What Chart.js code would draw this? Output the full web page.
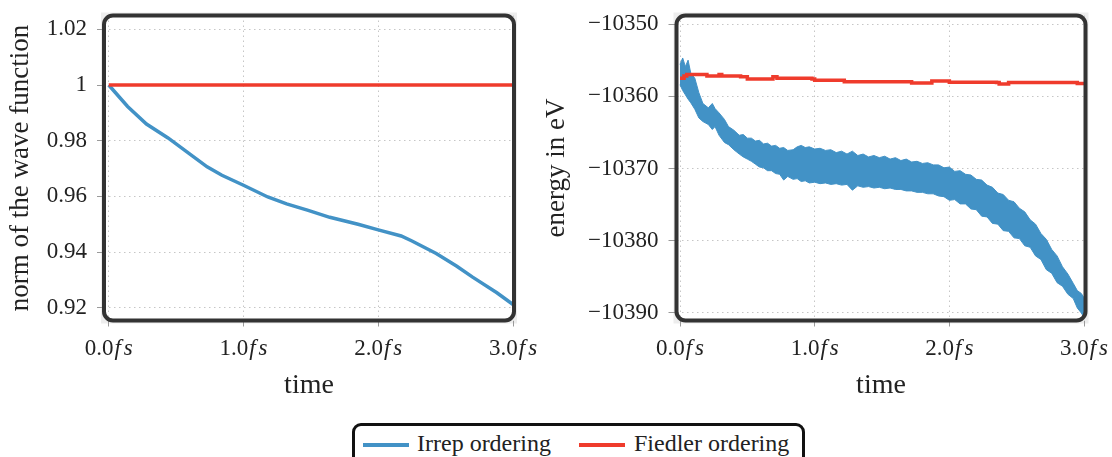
<!DOCTYPE html>
<html>
<head>
<meta charset="utf-8">
<script src="https://cdn.jsdelivr.net/npm/chart.js@4.4.0/dist/chart.umd.min.js"></script>
<style>
    body { margin: 0; width: 1112px; height: 457px; background: #fff; position: relative; overflow: hidden; font-family: "Liberation Serif", serif; color: #222; }
    #normChart { position: absolute; left: 0; top: 0; }
    #energyChart { position: absolute; left: 540px; top: 0; }
    #legend { position: absolute; left: 352px; top: 423px; width: 453px; height: 50px; border: 3px solid #111; border-radius: 9px; box-sizing: border-box; }
    #legend .swatch { position: absolute; top: 17px; width: 46px; height: 4px; }
    #legend .label { position: absolute; top: 3px; font-size: 24px; line-height: 28px; white-space: nowrap; }
</style>
</head>
<body>
<canvas id="normChart" width="540" height="420"></canvas>
<canvas id="energyChart" width="572" height="420"></canvas>
<div id="legend">
    <div class="swatch" style="left: 8px; background: #4292c6;"></div>
    <div class="label" style="left: 62px;">Irrep ordering</div>
    <div class="swatch" style="left: 224px; background: #ef3b2c;"></div>
    <div class="label" style="left: 279px;">Fiedler ordering</div>
</div>
<script>
const BLUE = '#4292c6';
const RED = '#ef3b2c';

// x ticks shared by both panels (fs)
const timeTicks = [0, 1, 2, 3];

// left panel: norm of the wave function
const normTicks = [0.92, 0.94, 0.96, 0.98, 1.0, 1.02];
const normTime = [0, 0.14, 0.28, 0.44, 0.58, 0.73, 0.84, 1.0, 1.18, 1.32, 1.48, 1.64, 1.85, 2.0, 2.17, 2.25, 2.43, 2.58, 2.7, 2.88, 3.0];
const normIrrep = [1.0, 0.9923, 0.986, 0.981, 0.976, 0.9706, 0.9676, 0.964, 0.9598, 0.9573, 0.955, 0.9525, 0.950, 0.948, 0.9458, 0.944, 0.9395, 0.935, 0.931, 0.9254, 0.9212];
const normFiedlerTime = [0, 3];
const normFiedler = [1.0, 1.0];

// right panel: energy (Irrep ordering is a noisy band -> upper / lower envelope)
const energyTicks = [-10390, -10380, -10370, -10360, -10350];
const bandTime = [0, 0.02, 0.04, 0.06, 0.08, 0.11, 0.14, 0.17, 0.21, 0.24, 0.26, 0.29, 0.33, 0.36, 0.40,
    0.44, 0.47, 0.50, 0.53, 0.56, 0.59, 0.62, 0.65, 0.68, 0.71, 0.74, 0.77, 0.80, 0.84, 0.87, 0.90, 0.93, 0.96,
    1.00, 1.04, 1.08, 1.12, 1.16, 1.20, 1.24, 1.28, 1.32, 1.36, 1.40, 1.44, 1.48, 1.52, 1.56, 1.60, 1.64, 1.68, 1.72, 1.76, 1.80, 1.84, 1.88, 1.92, 1.96,
    2.00, 2.04, 2.08, 2.12, 2.16, 2.20, 2.24, 2.28, 2.32, 2.36, 2.40, 2.44, 2.48, 2.52, 2.56, 2.60, 2.64, 2.68, 2.72, 2.76, 2.80, 2.84, 2.88, 2.92, 2.95, 2.98, 3.0];
const bandUpper = [-10355.6, -10354.7, -10355.9, -10355.0, -10356.8, -10357.5, -10359.5, -10361.0, -10361.6, -10361.0, -10361.7, -10362.3, -10363.2, -10364.2, -10364.7,
    -10365.4, -10365.3, -10365.8, -10365.8, -10366.2, -10366.1, -10366.6, -10366.5, -10366.9, -10366.8, -10367.2, -10367.1, -10367.5, -10367.4, -10367.0, -10366.8, -10367.1, -10367.0,
    -10367.3, -10367.2, -10367.5, -10367.4, -10367.8, -10367.6, -10368.0, -10367.6, -10368.2, -10368.0, -10368.4, -10368.2, -10368.5, -10368.3, -10368.7, -10368.5, -10368.9, -10368.7, -10369.1, -10369.0, -10369.3, -10369.2, -10369.5, -10369.5, -10369.9,
    -10369.8, -10370.4, -10370.3, -10370.8, -10370.9, -10371.5, -10371.6, -10372.3, -10372.6, -10373.4, -10373.6, -10374.4, -10374.6, -10375.5, -10376.0, -10377.1, -10377.7, -10379.0, -10379.8, -10381.2, -10382.1, -10383.6, -10384.6, -10385.9, -10386.9, -10387.3, -10387.9];
const bandLower = [-10358.4, -10359.2, -10359.8, -10360.4, -10360.9, -10361.8, -10363.0, -10363.5, -10363.9, -10364.6, -10364.2, -10365.4, -10366.4, -10366.7, -10367.4,
    -10368.0, -10368.4, -10368.7, -10369.0, -10369.4, -10369.8, -10369.9, -10370.3, -10370.3, -10370.7, -10370.8, -10371.6, -10371.1, -10371.5, -10371.4, -10371.8, -10371.7, -10372.0,
    -10371.9, -10372.1, -10372.0, -10372.2, -10372.1, -10372.3, -10372.2, -10373.0, -10372.4, -10372.6, -10372.5, -10372.7, -10372.6, -10372.8, -10372.7, -10372.9, -10372.9, -10373.1, -10373.1, -10373.3, -10373.3, -10373.5, -10373.5, -10373.8, -10373.9,
    -10374.4, -10374.3, -10374.9, -10374.9, -10375.6, -10375.7, -10376.6, -10376.7, -10377.6, -10377.7, -10378.6, -10378.7, -10379.6, -10379.7, -10380.7, -10380.9, -10382.1, -10382.6, -10384.0, -10384.5, -10385.8, -10386.3, -10387.4, -10388.0, -10389.3, -10390.0, -10390.6];
const fiedlerTime = [0, 0.03, 0.05, 0.18, 0.20, 0.27, 0.29, 0.31, 0.45, 0.50, 0.67, 0.69, 0.72, 0.98, 1.00, 1.20, 1.22, 1.70, 1.72, 1.85, 1.87, 1.98, 2.00, 2.35, 2.37, 2.42, 2.44, 2.93, 2.95, 3.0];
const fiedlerEnergy = [-10357.5, -10357.2, -10357.0, -10357.0, -10357.2, -10357.2, -10357.0, -10357.2, -10357.3, -10357.6, -10357.6, -10357.3, -10357.5, -10357.6, -10357.8, -10357.8, -10358.0, -10358.0, -10358.15, -10358.15, -10357.9, -10357.9, -10358.05, -10358.1, -10358.3, -10358.3, -10358.1, -10358.1, -10358.25, -10358.25];

function toPoints(xs, ys) {
    return xs.map((x, i) => ({ x: x, y: ys[i] }));
}

function roundRect(ctx, x, y, w, h, r) {
    ctx.beginPath();
    ctx.moveTo(x + r, y);
    ctx.arcTo(x + w, y, x + w, y + h, r);
    ctx.arcTo(x + w, y + h, x, y + h, r);
    ctx.arcTo(x, y + h, x, y, r);
    ctx.arcTo(x, y, x + w, y, r);
    ctx.closePath();
}

// rounded frame round the plot area plus the "0.0fs" style x labels
const framePlugin = {
    id: 'frame',
    beforeDraw(chart) {
        const { ctx, chartArea: a } = chart;
        ctx.save();
        ctx.fillStyle = '#ededed';
        ctx.fillRect(a.left - 3, a.top - 3, a.width + 6, a.height + 6);
        ctx.fillStyle = '#ffffff';
        roundRect(ctx, a.left, a.top, a.width, a.height, 9);
        ctx.fill();
        ctx.restore();
    },
    afterDraw(chart) {
        const { ctx, chartArea: a } = chart;
        ctx.save();
        ctx.lineWidth = 4;
        ctx.strokeStyle = '#333333';
        roundRect(ctx, a.left, a.top, a.width, a.height, 9);
        ctx.stroke();

        const xScale = chart.scales.x;
        const upright = '23px "Liberation Serif"';
        const italic = 'italic 23px "Liberation Serif"';
        ctx.fillStyle = '#222';
        ctx.textBaseline = 'middle';
        ctx.textAlign = 'left';
        timeTicks.forEach(v => {
            const num = v.toFixed(1);
            ctx.font = upright;
            const w1 = ctx.measureText(num).width;
            ctx.font = italic;
            const wf = ctx.measureText('f').width;
            const ws = ctx.measureText('s').width;
            const total = w1 + 1 + wf + 3 + ws;
            const px = xScale.getPixelForValue(v) - total / 2;
            ctx.font = upright;
            ctx.fillText(num, px, a.bottom + 28.5);
            ctx.font = italic;
            ctx.fillText('f', px + w1 + 1, a.bottom + 28.5);
            ctx.fillText('s', px + w1 + 1 + wf + 3, a.bottom + 28.5);
        });
        ctx.restore();
    }
};

function buildOptions(cfg) {
    return {
        responsive: false,
        animation: false,
        layout: { padding: { left: 0, right: cfg.padRight, top: 15.5, bottom: 0 } },
        plugins: { legend: { display: false }, tooltip: { enabled: false } },
        elements: { point: { radius: 0 }, line: { tension: 0 } },
        scales: {
            x: {
                type: 'linear',
                min: cfg.xMin,
                max: cfg.xMax,
                afterBuildTicks: scale => { scale.ticks = timeTicks.map(v => ({ value: v })); },
                afterFit: scale => {
                    scale.height = 420 - 320.5;
                    scale.paddingLeft = 0;
                    scale.paddingRight = 0;
                },
                ticks: { display: false },
                grid: { color: '#c6c6c6', lineWidth: 1, drawTicks: true, tickLength: 6, tickColor: '#9a9a9a', tickBorderDash: [] },
                border: { display: false, dash: [1.5, 3.5] },
                title: { display: true, text: 'time', font: { family: 'Liberation Serif', size: 28 }, color: '#222', padding: { top: 0, bottom: 18 } }
            },
            y: {
                min: cfg.yMin,
                max: cfg.yMax,
                afterBuildTicks: scale => { scale.ticks = cfg.yTicks.map(v => ({ value: v })); },
                afterFit: scale => {
                    scale.width = cfg.yWidth;
                    scale.paddingTop = 0;
                    scale.paddingBottom = 0;
                },
                ticks: { callback: cfg.yLabel, color: '#222', font: { family: 'Liberation Serif', size: 23 }, padding: 10 },
                grid: { color: '#c6c6c6', lineWidth: 1, drawTicks: true, tickLength: cfg.tickLen, tickColor: '#9a9a9a', tickBorderDash: [] },
                border: { display: false, dash: [1.5, 3.5] },
                title: { display: true, text: cfg.yTitle, font: { family: 'Liberation Serif', size: 27 }, color: '#222', padding: { top: cfg.titlePad, bottom: 0 } }
            }
        }
    };
}

new Chart(document.getElementById('normChart'), {
    type: 'line',
    data: {
        datasets: [
            { label: 'Irrep ordering', data: toPoints(normTime, normIrrep), borderColor: BLUE, borderWidth: 3.5, order: 1 },
            { label: 'Fiedler ordering', data: toPoints(normFiedlerTime, normFiedler), borderColor: RED, borderWidth: 3.5, order: 0 }
        ]
    },
    options: buildOptions({
        padRight: 26, xMin: -0.035, xMax: 3.007,
        yMin: 0.91544, yMax: 1.02496, yTicks: normTicks, yWidth: 104, tickLen: 7, titlePad: 5,
        yLabel: v => (v === 1 ? '1' : v.toFixed(2)),
        yTitle: 'norm of the wave function'
    }),
    plugins: [framePlugin]
});

new Chart(document.getElementById('energyChart'), {
    type: 'line',
    data: {
        datasets: [
            { label: 'Fiedler ordering', data: toPoints(fiedlerTime, fiedlerEnergy), borderColor: RED, borderWidth: 3.5, stepped: true, order: 0 },
            { label: 'Irrep ordering', data: toPoints(bandTime, bandUpper), borderColor: BLUE, borderWidth: 1, fill: false, order: 1 },
            { label: 'Irrep band', data: toPoints(bandTime, bandLower), borderColor: BLUE, borderWidth: 1, backgroundColor: BLUE, fill: '-1', order: 2 }
        ]
    },
    options: buildOptions({
        padRight: 26.5, xMin: -0.026, xMax: 3.011,
        yMin: -10391.04, yMax: -10348.82, yTicks: energyTicks, yWidth: 136.5, tickLen: 8, titlePad: 1,
        yLabel: v => '\u2212' + Math.abs(v),
        yTitle: 'energy in eV'
    }),
    plugins: [framePlugin]
});
</script>
</body>
</html>
